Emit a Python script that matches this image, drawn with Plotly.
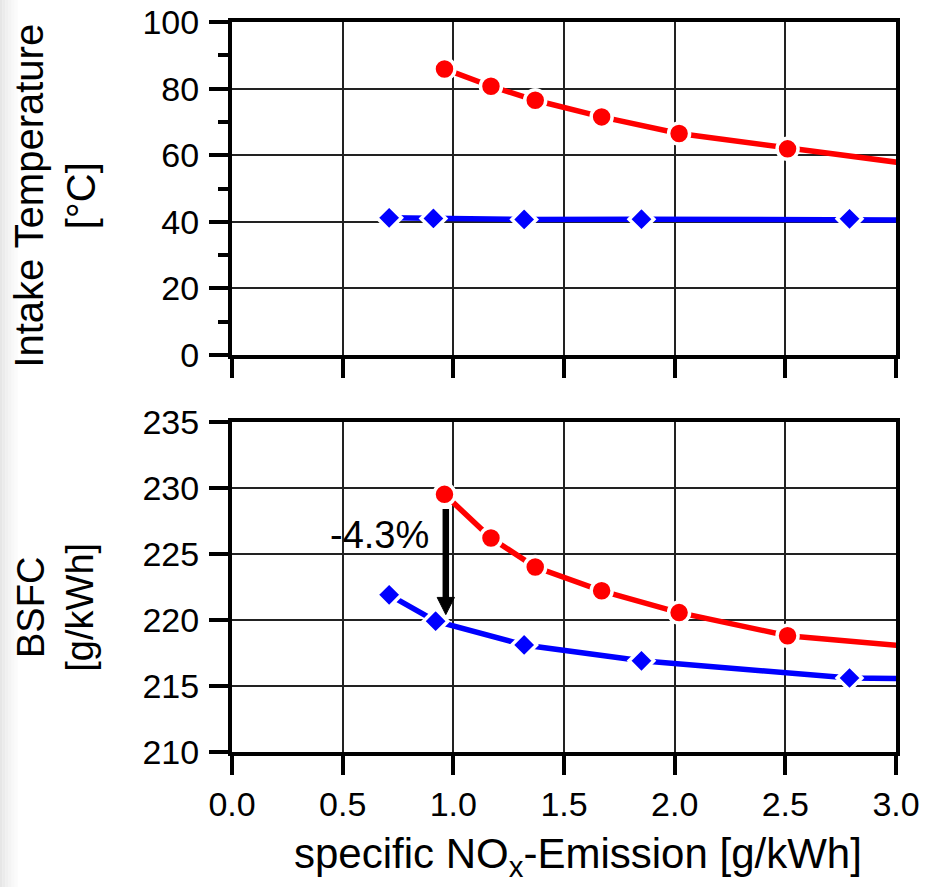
import plotly.graph_objects as go

# ---- data ----
nox_red_temp = [0.96, 1.17, 1.37, 1.67, 2.02, 2.51, 3.30]
temp_red = [85.9, 80.7, 76.5, 71.5, 66.5, 61.9, 55.3]
nox_blue_temp = [0.71, 0.91, 1.32, 1.85, 2.79, 3.30]
temp_blue = [41.2, 41.0, 40.7, 40.8, 40.9, 40.5]

nox_red_bsfc = [0.96, 1.17, 1.37, 1.67, 2.02, 2.51, 3.30]
bsfc_red = [229.5, 226.2, 224.0, 222.2, 220.55, 218.8, 217.65]
nox_blue_bsfc = [0.71, 0.92, 1.32, 1.85, 2.79, 3.30]
bsfc_blue = [221.9, 219.9, 218.1, 216.9, 215.6, 215.5]

x_tickvals = [0.0, 0.5, 1.0, 1.5, 2.0, 2.5, 3.0]
x_ticktext = ["0.0", "0.5", "1.0", "1.5", "2.0", "2.5", "3.0"]
temp_ticks = [0, 20, 40, 60, 80, 100]
bsfc_ticks = [210, 215, 220, 225, 230, 235]

annotation_text = "-4.3%"
x_title = "specific NO<sub>x</sub>-Emission [g/kWh]"
y_title_top = "Intake Temperature<br>[°C]"
y_title_bottom = "BSFC<br>[g/kWh]"

FONT = "Liberation Sans, Arial, Helvetica, sans-serif"
RED = "#FF0000"
BLUE = "#0000FF"

fig = go.Figure()


def add_series(x, y, color, symbol, size, xa, ya):
    fig.add_trace(go.Scatter(
        x=x, y=y, mode="lines+markers", xaxis=xa, yaxis=ya,
        line=dict(color=color, width=5.5),
        marker=dict(symbol=symbol, size=size, color=color,
                    line=dict(color="white", width=3.5)),
        showlegend=False, cliponaxis=True,
    ))


add_series(nox_blue_temp, temp_blue, BLUE, "diamond", 19, "x", "y")
add_series(nox_red_temp, temp_red, RED, "circle", 21, "x", "y")
add_series(nox_blue_bsfc, bsfc_blue, BLUE, "diamond", 19, "x2", "y2")
add_series(nox_red_bsfc, bsfc_red, RED, "circle", 21, "x2", "y2")

common_axis = dict(
    showline=True, linecolor="black", linewidth=4, mirror=True,
    ticks="outside", ticklen=19, tickwidth=4, tickcolor="black",
    showgrid=True, gridcolor="#222222", gridwidth=1.5,
    zeroline=False, automargin=False,
    tickfont=dict(family=FONT, size=34, color="black"),
)

top_dom = [(752 - 355) / 730, 1.0]
bot_dom = [0.0, (752 - 421.7) / 730]

fig.update_layout(
    width=941, height=887,
    margin=dict(l=232, r=45, t=22, b=135),
    paper_bgcolor="white", plot_bgcolor="white",
    font=dict(family=FONT, color="black"),
    xaxis=dict(common_axis, domain=[0, 1], anchor="y", range=[0, 3],
               tickvals=x_tickvals, ticktext=x_ticktext, showticklabels=False),
    yaxis=dict(common_axis, domain=top_dom, anchor="x", range=[0, 100],
               tickvals=temp_ticks, ticklabelstandoff=3,
               minor=dict(ticks="outside", ticklen=10, tickwidth=4,
                          tickcolor="black", dtick=10, showgrid=False)),
    xaxis2=dict(common_axis, domain=[0, 1], anchor="y2", range=[0, 3],
                tickvals=x_tickvals, ticktext=x_ticktext, ticklabelstandoff=0),
    yaxis2=dict(common_axis, domain=bot_dom, anchor="x2", range=[210, 235],
                tickvals=bsfc_ticks, ticklabelstandoff=3),
)

# axis titles placed as annotations to match the reference positions
fig.add_annotation(
    x=(577 - 232) / 663, y=(752 - 857) / 730, xref="paper", yref="paper",
    text=x_title, showarrow=False, xanchor="center", yanchor="middle",
    font=dict(family=FONT, size=42, color="black"),
)
fig.add_annotation(
    x=(55 - 232) / 663, y=(752 - 196) / 730, xref="paper", yref="paper",
    text=y_title_top, showarrow=False, textangle=-90,
    xanchor="center", yanchor="middle",
    font=dict(family=FONT, size=40, color="black"),
)
fig.add_annotation(
    x=(55 - 232) / 663, y=(752 - 607) / 730, xref="paper", yref="paper",
    text=y_title_bottom, showarrow=False, textangle=-90,
    xanchor="center", yanchor="middle",
    font=dict(family=FONT, size=38, color="black"),
)

# arrow (shaft + head) in the BSFC panel
arrow_x = 0.966
fig.add_shape(type="line", xref="x2", yref="y2",
              x0=arrow_x, x1=arrow_x, y0=228.4, y1=221.5,
              line=dict(color="black", width=6.5))
fig.add_shape(type="path", xref="x2", yref="y2",
              path=f"M {arrow_x - 0.039},221.7 L {arrow_x + 0.039},221.7 "
                   f"L {arrow_x},220.4 Z",
              fillcolor="black", line=dict(color="black", width=1))
fig.add_annotation(
    x=0.666, y=226.4, xref="x2", yref="y2", text=annotation_text,
    showarrow=False, font=dict(family=FONT, size=38, color="black"),
    xanchor="center", yanchor="middle",
)

# faint grey shading along the left edge of the slide
grey_steps = ["#e6e6e6", "#ebebeb", "#f0f0f0", "#f4f4f4", "#f8f8f8", "#fbfbfb"]
for i, c in enumerate(grey_steps):
    x0 = (0 + i * 3 - 232) / 663
    x1 = (3 + i * 3 - 232) / 663
    fig.add_shape(type="rect", xref="paper", yref="paper",
                  x0=x0, x1=x1, y0=-135 / 730, y1=1 + 22 / 730,
                  fillcolor=c, line=dict(width=0), layer="below")

fig.write_html("out.html")
